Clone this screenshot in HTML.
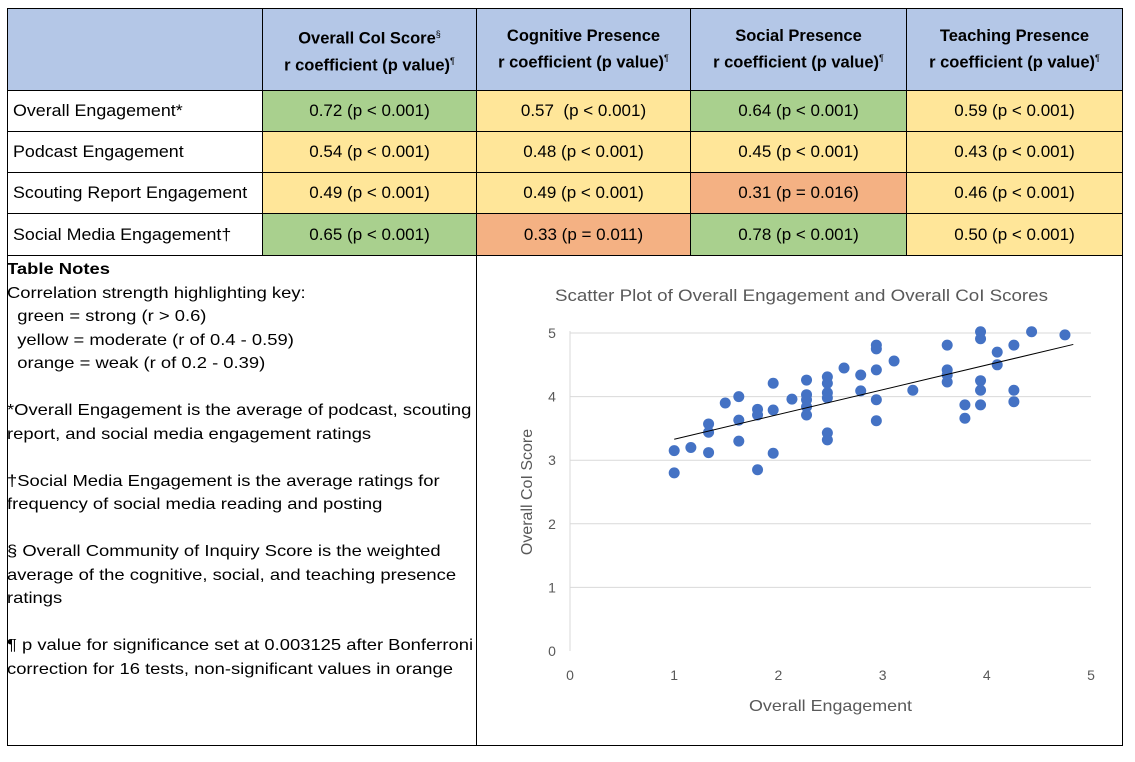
<!DOCTYPE html>
<html><head><meta charset="utf-8"><style>
body{margin:0;width:1135px;height:762px;background:#fff;font-family:"Liberation Sans",sans-serif;position:relative;overflow:hidden}
.c{position:absolute;box-sizing:border-box;border:1px solid #000;display:flex;align-items:center;font-size:17px;color:#000}
.h{background:#b4c7e7;justify-content:center;text-align:center;font-weight:bold;font-size:16.5px;line-height:22px}
.l{padding-left:5px;background:#fff}
.l span{display:inline-block;transform:scaleX(1.05);transform-origin:left}
.v{justify-content:center}
.g{background:#a9d08e}.y{background:#ffe699}.o{background:#f4b183}
sup{font-size:9px;font-weight:normal}
.notes{position:absolute;left:7px;top:258px;font-size:16px;line-height:23.5px;white-space:pre;transform:scaleX(1.15);transform-origin:left top}
</style></head><body>
<div class="c h" style="left:7px;top:8px;width:256px;height:83px"></div>
<div class="c h" style="left:262px;top:8px;width:215px;height:83px"><div>Overall CoI Score<sup>§</sup><br>r coefficient (p value)<sup>¶</sup></div></div>
<div class="c h" style="left:476px;top:8px;width:215px;height:83px"><div>Cognitive Presence<br>r coefficient (p value)<sup>¶</sup></div></div>
<div class="c h" style="left:690px;top:8px;width:217px;height:83px"><div>Social Presence<br>r coefficient (p value)<sup>¶</sup></div></div>
<div class="c h" style="left:906px;top:8px;width:217px;height:83px"><div>Teaching Presence<br>r coefficient (p value)<sup>¶</sup></div></div>

<div class="c l" style="left:7px;top:90px;width:256px;height:42px"><span>Overall Engagement*</span></div>
<div class="c v g" style="left:262px;top:90px;width:215px;height:42px">0.72 (p &lt; 0.001)</div>
<div class="c v y" style="left:476px;top:90px;width:215px;height:42px">0.57&nbsp; (p &lt; 0.001)</div>
<div class="c v g" style="left:690px;top:90px;width:217px;height:42px">0.64 (p &lt; 0.001)</div>
<div class="c v y" style="left:906px;top:90px;width:217px;height:42px">0.59 (p &lt; 0.001)</div>

<div class="c l" style="left:7px;top:131px;width:256px;height:42px"><span>Podcast Engagement</span></div>
<div class="c v y" style="left:262px;top:131px;width:215px;height:42px">0.54 (p &lt; 0.001)</div>
<div class="c v y" style="left:476px;top:131px;width:215px;height:42px">0.48 (p &lt; 0.001)</div>
<div class="c v y" style="left:690px;top:131px;width:217px;height:42px">0.45 (p &lt; 0.001)</div>
<div class="c v y" style="left:906px;top:131px;width:217px;height:42px">0.43 (p &lt; 0.001)</div>

<div class="c l" style="left:7px;top:172px;width:256px;height:42px"><span>Scouting Report Engagement</span></div>
<div class="c v y" style="left:262px;top:172px;width:215px;height:42px">0.49 (p &lt; 0.001)</div>
<div class="c v y" style="left:476px;top:172px;width:215px;height:42px">0.49 (p &lt; 0.001)</div>
<div class="c v o" style="left:690px;top:172px;width:217px;height:42px">0.31 (p = 0.016)</div>
<div class="c v y" style="left:906px;top:172px;width:217px;height:42px">0.46 (p &lt; 0.001)</div>

<div class="c l" style="left:7px;top:213px;width:256px;height:43px"><span>Social Media Engagement†</span></div>
<div class="c v g" style="left:262px;top:213px;width:215px;height:43px">0.65 (p &lt; 0.001)</div>
<div class="c v o" style="left:476px;top:213px;width:215px;height:43px">0.33 (p = 0.011)</div>
<div class="c v g" style="left:690px;top:213px;width:217px;height:43px">0.78 (p &lt; 0.001)</div>
<div class="c v y" style="left:906px;top:213px;width:217px;height:43px">0.50 (p &lt; 0.001)</div>

<div class="c" style="left:7px;top:255px;width:470px;height:491px"></div>
<div class="c" style="left:476px;top:255px;width:647px;height:491px"></div>
<div class="notes"><b>Table Notes</b>
Correlation strength highlighting key:
  green = strong (r &gt; 0.6)
  yellow = moderate (r of 0.4 - 0.59)
  orange = weak (r of 0.2 - 0.39)

*Overall Engagement is the average of podcast, scouting
report, and social media engagement ratings

†Social Media Engagement is the average ratings for
frequency of social media reading and posting

§ Overall Community of Inquiry Score is the weighted
average of the cognitive, social, and teaching presence
ratings

¶ p value for significance set at 0.003125 after Bonferroni
correction for 16 tests, non-significant values in orange</div>

<svg id="chart" style="position:absolute;left:0;top:0" width="1135" height="762"></svg>
<script>
const xTicks=[0,1,2,3,4,5];
const yTicks=[0,1,2,3,4,5];
const engagement=[1.0,1.0,1.16,1.33,1.33,1.33,1.49,1.62,1.62,1.62,1.8,1.8,1.8,1.95,1.95,1.95,2.13,2.27,2.27,2.27,2.27,2.27,2.47,2.47,2.47,2.47,2.47,2.47,2.63,2.79,2.79,2.94,2.94,2.94,2.94,2.94,3.11,3.29,3.62,3.62,3.62,3.62,3.79,3.79,3.94,3.94,3.94,3.94,3.94,4.1,4.1,4.26,4.26,4.26,4.43,4.75];
const coiScore=[3.15,2.8,3.2,3.12,3.57,3.44,3.9,4.0,3.63,3.3,3.8,3.71,2.85,4.21,3.79,3.11,3.96,4.26,4.03,3.95,3.84,3.71,4.31,4.21,4.06,3.98,3.43,3.32,4.45,4.34,4.09,4.81,4.75,4.42,3.95,3.62,4.56,4.1,4.81,4.42,4.34,4.23,3.87,3.66,5.02,4.91,4.25,4.1,3.87,4.7,4.5,4.81,4.1,3.92,5.02,4.97];
const trendX=[1.0,4.83];
const trendY=[3.33,4.82];
const svg=document.getElementById('chart');const NS='http://www.w3.org/2000/svg';
const sx=v=>570+v*104.2, sy=v=>651-v*63.6;
function mk(t,a,txt){const e=document.createElementNS(NS,t);for(const k in a)e.setAttribute(k,a[k]);if(txt!==undefined)e.textContent=txt;svg.appendChild(e);return e;}
yTicks.forEach(v=>{if(v>0){const g=mk('line',{x1:sx(0),x2:sx(5),y1:sy(v),y2:sy(v),stroke:'#d9d9d9','stroke-width':1});

}
const t=mk('text',{x:552,y:sy(v)+5,'font-size':14,fill:'#595959','text-anchor':'middle','font-family':'Liberation Sans'},v);

});
xTicks.forEach(v=>{const t=mk('text',{x:sx(v),y:680,'font-size':14,fill:'#595959','text-anchor':'middle','font-family':'Liberation Sans'},v);

});
const ax=mk('line',{x1:sx(0),x2:sx(0),y1:sy(5)-2,y2:sy(0),stroke:'#d9d9d9'});


engagement.forEach((x,i)=>{const c=mk('circle',{cx:sx(x),cy:sy(coiScore[i]),r:5.5,fill:'#4472c4'});

});
const tl=mk('line',{x1:sx(trendX[0]),y1:sy(trendY[0]),x2:sx(trendX[1]),y2:sy(trendY[1]),stroke:'#000','stroke-width':1});


const ti=mk('text',{x:555,y:301,'font-size':17,fill:'#595959','font-family':'Liberation Sans',textLength:493,lengthAdjust:'spacingAndGlyphs'},'Scatter Plot of Overall Engagement and Overall CoI Scores');


const xl=mk('text',{x:749,y:711,'font-size':16,fill:'#595959','font-family':'Liberation Sans',textLength:163,lengthAdjust:'spacingAndGlyphs'},'Overall Engagement');


const yl=mk('text',{x:0,y:0,'font-size':16,fill:'#595959','text-anchor':'middle','font-family':'Liberation Sans',transform:'translate(532,492) rotate(-90)'},'Overall CoI Score');


</script>
</body></html>
